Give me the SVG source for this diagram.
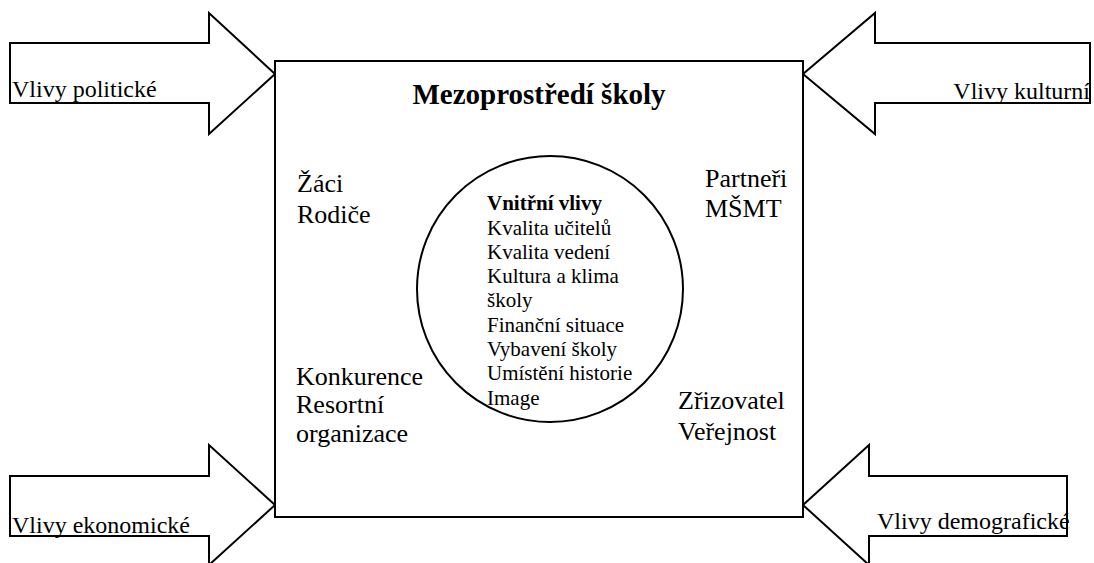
<svg xmlns="http://www.w3.org/2000/svg" width="1094" height="563" viewBox="0 0 1094 563">
<style>
.shape{fill:#fff;stroke:#000;stroke-width:2}
text{fill:#000}
.lbl{font-size:24px}
.side{font-size:26px}
.inner{font-size:21px}
</style>
<rect width="1094" height="563" fill="#fff"/>
<g id="connectors">
<polygon id="arrow-politicke" class="shape" points="10,43 209,43 209,13 275,74 209,134 209,103 10,103"/>
<polygon id="arrow-kulturni" class="shape" points="1090,43 875,43 875,13 803,74 875,134 875,103 1090,103"/>
<polygon id="arrow-ekonomicke" class="shape" points="10,476 209,476 209,445 275,505 209,565 209,536 10,536"/>
<polygon id="arrow-demograficke" class="shape" points="1067,476 869,476 869,445 803,505 869,565 869,536 1067,536"/>
</g>
<g font-family="'Liberation Serif', 'DejaVu Serif', serif">
<g id="label-politicke"><text class="lbl" x="12" y="97">Vlivy politické</text></g>
<g id="label-kulturni"><text class="lbl" x="1090" y="99" text-anchor="end">Vlivy kulturní</text></g>
<g id="label-ekonomicke"><text class="lbl" x="12" y="533">Vlivy ekonomické</text></g>
<g id="label-demograficke"><text class="lbl" x="877" y="529">Vlivy demografické</text></g>
<g id="mezoprostredi">
<rect class="shape" x="275" y="61" width="528" height="456"/>
<text x="539" y="104" text-anchor="middle" font-size="29" font-weight="bold">Mezoprostředí školy</text>
</g>
<g id="zaci"><text class="side" x="297" y="192">Žáci</text><text class="side" x="297" y="223">Rodiče</text></g>
<g id="partneri"><text class="side" x="705" y="187">Partneři</text><text class="side" x="705" y="217">MŠMT</text></g>
<g id="konkurence"><text class="side" x="296" y="385">Konkurence</text><text class="side" x="296" y="413">Resortní</text><text class="side" x="296" y="442">organizace</text></g>
<g id="zrizovatel"><text class="side" x="678" y="409">Zřizovatel</text><text class="side" x="678" y="440">Veřejnost</text></g>
<g id="vnitrni">
<circle class="shape" cx="550" cy="289" r="133"/>
<text class="inner" x="487" y="210" font-weight="bold">Vnitřní vlivy</text>
<text class="inner" x="487" y="235">Kvalita učitelů</text>
<text class="inner" x="487" y="259">Kvalita vedení</text>
<text class="inner" x="487" y="283">Kultura a klima</text>
<text class="inner" x="487" y="307">školy</text>
<text class="inner" x="487" y="332">Finanční situace</text>
<text class="inner" x="487" y="356">Vybavení školy</text>
<text class="inner" x="487" y="380">Umístění historie</text>
<text class="inner" x="487" y="405">Image</text>
</g>
</g>
</svg>
